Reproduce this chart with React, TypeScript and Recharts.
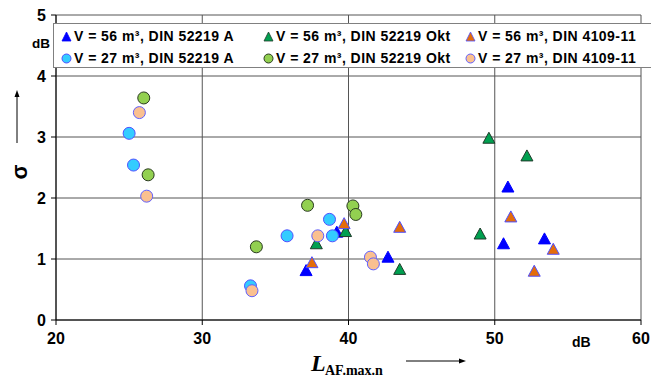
import React from 'react';
import { ScatterChart, Scatter, XAxis, YAxis, CartesianGrid } from 'recharts';

// V = 56 m³ (triangles)
const tri56AX = [39.2, 42.7, 37.1, 50.9, 53.4, 50.6];
const tri56AY = [1.43, 1.02, 0.8, 2.17, 1.32, 1.24];
const tri56OktX = [39.8, 37.8, 43.5, 49.6, 52.2, 49.0];
const tri56OktY = [1.44, 1.24, 0.82, 2.97, 2.68, 1.4];
const tri56DinX = [39.7, 43.5, 37.5, 51.1, 54.0, 52.7];
const tri56DinY = [1.57, 1.51, 0.93, 1.68, 1.15, 0.79];

// V = 27 m³ (circles)
const circ27AX = [25.0, 25.3, 38.7, 35.8, 38.9, 33.3];
const circ27AY = [3.06, 2.54, 1.65, 1.38, 1.38, 0.56];
const circ27OktX = [26.0, 26.3, 37.2, 40.3, 40.5, 33.7];
const circ27OktY = [3.64, 2.38, 1.88, 1.87, 1.73, 1.2];
const circ27DinX = [25.7, 26.2, 37.9, 41.5, 41.7, 33.4];
const circ27DinY = [3.4, 2.03, 1.38, 1.03, 0.92, 0.48];

const xTicks = [20, 30, 40, 50, 60];
const yTicks = [0, 1, 2, 3, 4, 5];

const toPoints = (xs: number[], ys: number[]) => xs.map((x, i) => ({ x, y: ys[i] }));

type SeriesDef = {
  name: string;
  xs: number[];
  ys: number[];
  kind: 'tri' | 'circ';
  fill: string;
  stroke: string;
};

const series: SeriesDef[] = [
  { name: 'V = 56 m³, DIN 52219 A', xs: tri56AX, ys: tri56AY, kind: 'tri', fill: '#0000ff', stroke: '#0000ff' },
  { name: 'V = 56 m³, DIN 52219 Okt', xs: tri56OktX, ys: tri56OktY, kind: 'tri', fill: '#00a050', stroke: '#1f3a2a' },
  { name: 'V = 56 m³, DIN 4109-11', xs: tri56DinX, ys: tri56DinY, kind: 'tri', fill: '#e46c0a', stroke: '#5050ff' },
  { name: 'V = 27 m³, DIN 52219 A', xs: circ27AX, ys: circ27AY, kind: 'circ', fill: '#33ccff', stroke: '#5050ff' },
  { name: 'V = 27 m³, DIN 52219 Okt', xs: circ27OktX, ys: circ27OktY, kind: 'circ', fill: '#92d050', stroke: '#2a3a20' },
  { name: 'V = 27 m³, DIN 4109-11', xs: circ27DinX, ys: circ27DinY, kind: 'circ', fill: '#fac090', stroke: '#6060ff' },
];

const FONT = 'Arial, "Liberation Sans", sans-serif';
const SERIF = '"Liberation Serif", "Times New Roman", serif';

const makeShape = (s: SeriesDef) => (props: any) => {
  const { cx, cy } = props;
  if (cx == null || cy == null) return null;
  if (s.kind === 'circ') {
    return <circle cx={cx} cy={cy} r={6} fill={s.fill} stroke={s.stroke} strokeWidth={1} />;
  }
  const h = 11;
  const w = 12;
  return (
    <polygon
      points={`${cx},${cy - h * 0.6} ${cx - w / 2},${cy + h * 0.4} ${cx + w / 2},${cy + h * 0.4}`}
      fill={s.fill}
      stroke={s.stroke}
      strokeWidth={1}
    />
  );
};

const LegendMarker = ({ s }: { s: SeriesDef }) => (
  <svg width={11} height={11} style={{ marginRight: 2, flexShrink: 0 }}>
    {s.kind === 'circ' ? (
      <circle cx={5.5} cy={5.5} r={4.5} fill={s.fill} stroke={s.stroke} strokeWidth={1} />
    ) : (
      <polygon points="5.5,1 1,10 10,10" fill={s.fill} stroke={s.stroke} strokeWidth={0.8} />
    )}
  </svg>
);

const LegendBox = () => (
  <div
    style={{
      position: 'absolute',
      left: 53,
      top: 23,
      background: '#fff',
      border: '1px solid #808080',
      width: 640,
      height: 45,
      boxSizing: 'border-box',
      padding: '3px 0 0 7px',
      fontFamily: FONT,
      fontWeight: 'bold',
      fontSize: 14,
      letterSpacing: 0.45,
      color: '#000',
    }}
  >
    {[0, 1].map((row) => (
      <div key={row} style={{ display: 'flex', height: 18, alignItems: 'center', marginBottom: 4 }}>
        {[0, 1, 2].map((col) => {
          const s = series[row * 3 + col];
          return (
            <div key={col} style={{ display: 'flex', alignItems: 'center', width: 202, whiteSpace: 'nowrap' }}>
              <LegendMarker s={s} />
              <span>{s.name}</span>
            </div>
          );
        })}
      </div>
    ))}
  </div>
);

export default function App() {
  return (
    <div style={{ position: 'absolute', left: 0, top: 0, width: 651, height: 378, overflow: 'hidden', background: '#fff' }}>
      <ScatterChart width={651} height={378} margin={{ top: 15, right: 10, bottom: 0, left: 0 }}>
        <CartesianGrid stroke="#555" strokeWidth={1} />
        <XAxis
          type="number"
          dataKey="x"
          domain={[20, 60]}
          ticks={xTicks}
          height={58}
          stroke="#000"
          tickSize={5}
          tickMargin={8}
          tick={{ fill: '#000', fontFamily: FONT, fontWeight: 'bold', fontSize: 16 }}
          interval={0}
        />
        <YAxis
          type="number"
          dataKey="y"
          domain={[0, 5]}
          ticks={yTicks}
          width={56}
          stroke="#000"
          tickSize={5}
          tickMargin={5}
          tick={{ fill: '#000', fontFamily: FONT, fontWeight: 'bold', fontSize: 16 }}
          interval={0}
        />
        {series.map((s) => (
          <Scatter
            key={s.name}
            name={s.name}
            data={toPoints(s.xs, s.ys)}
            shape={makeShape(s)}
            isAnimationActive={false}
          />
        ))}
      </ScatterChart>

      <LegendBox />

      <svg width={651} height={378} style={{ position: 'absolute', left: 0, top: 0, pointerEvents: 'none' }}>
        {/* y axis unit and label */}
        <text x={32} y={48} fontFamily={FONT} fontWeight="bold" fontSize={13.5}>dB</text>
        <text
          x={19}
          y={172}
          fontFamily={FONT}
          fontWeight="bold"
          fontSize={22}
          textAnchor="middle"
          dominantBaseline="central"
          transform="rotate(-90 19 172)"
        >
          σ
        </text>
        <line x1={17} y1={143} x2={17} y2={96} stroke="#000" strokeWidth={1} />
        <polygon points="17,90 14.5,97 19.5,97" fill="#000" />
        {/* x axis unit and label */}
        <text x={572} y={347} fontFamily={FONT} fontWeight="bold" fontSize={14}>dB</text>
        <text x={311} y={371} fontFamily={SERIF} fontWeight="bold" fontStyle="italic" fontSize={24}>L</text>
        <text x={325} y={375} fontFamily={SERIF} fontWeight="bold" fontSize={14}>AF.max.n</text>
        <line x1={406} y1={361} x2={460} y2={361} stroke="#000" strokeWidth={1} />
        <polygon points="466,361 459,358.5 459,363.5" fill="#000" />
      </svg>
    </div>
  );
}
